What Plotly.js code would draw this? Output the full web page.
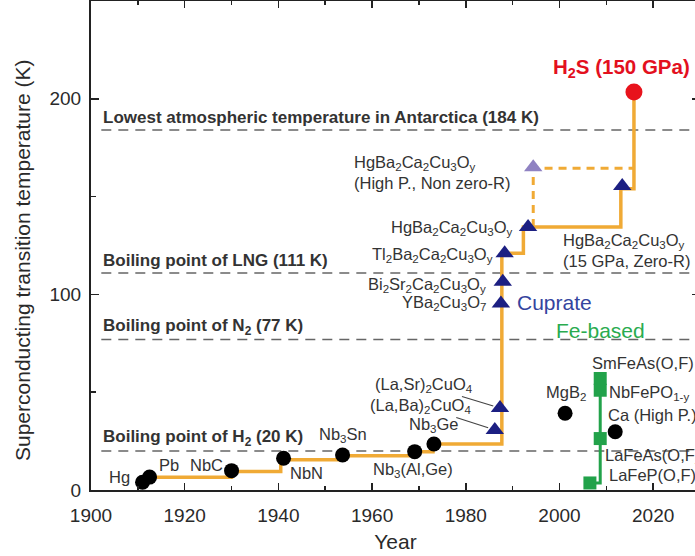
<!DOCTYPE html>
<html>
<head>
<meta charset="utf-8">
<script src="https://cdn.plot.ly/plotly-3.0.1.min.js"></script>
<style>html,body{margin:0;padding:0;overflow:hidden;background:#fff;}</style>
</head>
<body>
<div id="chart"></div>
<script>
// Conventional superconductors (black circles)
const convNames = ["Hg","Pb","NbC","NbN","Nb3Sn","Nb3(Al,Ge)","Nb3Ge","MgB2","Ca (High P.)"];
const convYear  = [1911, 1912.5, 1930, 1941.1, 1953.7, 1969.1, 1973.2, 2001.2, 2011.9];
const convTc    = [4, 6.6, 9.9, 16.2, 17.9, 19.6, 23.5, 39.2, 29.8];

// Cuprates (navy triangles)
const cupNames = ["(La,Ba)2CuO4","(La,Sr)2CuO4","YBa2Cu3O7","Bi2Sr2Ca2Cu3Oy","Tl2Ba2Ca2Cu3Oy","HgBa2Ca2Cu3Oy","HgBa2Ca2Cu3Oy (15 GPa, Zero-R)"];
const cupYear  = [1986.2, 1987.3, 1987.5, 1987.9, 1988.3, 1993.3, 2013.4];
const cupTc    = [30.7, 41.9, 95.4, 106.5, 121, 134.5, 155.4];

// Cuprate under high pressure, non zero resistance (lavender triangle)
const hpYear = [1994.4];
const hpTc   = [165];

// Hydride
const h2sYear = [2015.9];
const h2sTc   = [203.5];

// Fe-based (green squares)
const feNames = ["LaFeP(O,F)","LaFeAs(O,F)","NbFePO1-y","SmFeAs(O,F)"];
const feYear  = [2006.5, 2008.7, 2008.7, 2008.7];
const feTc    = [3.6, 26.3, 51, 57];

// Record envelope line (orange step)
const recYear = [1911, 1912.5, 1930, 1940.5, 1954, 1969, 1973, 1987.7, 1992.3, 2013.1, 2015.9];
const recTc   = [4, 6.5, 9.5, 15.5, 17.5, 19.5, 23.5, 121, 134.5, 154, 203.5];

// Dashed branch (high pressure, non zero-R)
const dashYear = [1994.4, 1994.4, 2015.9];
const dashTc   = [134.5, 164.5, 164.5];

// Reference temperatures
const refTemps  = [184, 111, 77, 20];
const refLabels = ["Lowest atmospheric temperature in Antarctica (184 K)",
                   "Boiling point of LNG (111 K)",
                   "Boiling point of N<sub>2</sub> (77 K)",
                   "Boiling point of H<sub>2</sub> (20 K)"];

const xTicks = [1900, 1920, 1940, 1960, 1980, 2000, 2020];
const yTicks = [0, 100, 200];

const ORANGE = "#f0aa35";
const FONT = "Arial, 'Liberation Sans', Helvetica, sans-serif";
const TXT = "#333333";
const LS = 16.5;

const traces = [
  {x: recYear, y: recTc, mode: "lines", line: {color: ORANGE, width: 3.5, shape: "hv"}, hoverinfo: "skip"},
  {x: dashYear, y: dashTc, mode: "lines", line: {color: ORANGE, width: 3, dash: "8px,6px"}, hoverinfo: "skip"},
  {x: feYear, y: feTc, mode: "lines+markers", line: {color: "#22a24a", width: 3, shape: "hv"},
   marker: {symbol: "square", size: 13, color: "#22a24a"}, text: feNames},
  {x: convYear, y: convTc, mode: "markers", marker: {symbol: "circle", size: 15, color: "#000000"}, text: convNames},
  {x: cupYear, y: cupTc, mode: "markers", marker: {symbol: "triangle-up", size: 16, color: "#1c1f82"}, text: cupNames},
  {x: hpYear, y: hpTc, mode: "markers", marker: {symbol: "triangle-up", size: 16, color: "#8f82c2"}},
  {x: h2sYear, y: h2sTc, mode: "markers", marker: {symbol: "circle", size: 17, color: "#e8131c"}}
];

const shapes = refTemps.map(t => ({
  type: "line", xref: "x", yref: "y", x0: 1902.2, x1: 2030, y0: t, y1: t,
  line: {color: "#666666", width: 1.5, dash: "10px,7px"}, layer: "below"
}));

function lab(text, x, y, anchor, opts) {
  return Object.assign({text: text, x: x, y: y, xref: "x", yref: "y", showarrow: false,
    xanchor: anchor, yanchor: "middle", font: {family: FONT, size: LS, color: TXT}}, opts || {});
}

const annotations = [];
refTemps.forEach((t, i) => {
  annotations.push(lab("<b>" + refLabels[i] + "</b>", 1902.2, t, "left",
    {yshift: 12.5, font: {family: FONT, size: 17, color: "#333"}}));
});

annotations.push(
  lab("Hg", 1908.7, 6.6, "right"),
  lab("Pb", 1914.0, 12.8, "left"),
  lab("NbC", 1920.6, 12.8, "left"),
  lab("NbN", 1942.0, 8.7, "left"),
  lab("Nb<sub>3</sub>Sn", 1948.2, 28.1, "left"),
  lab("Nb<sub>3</sub>(Al,Ge)", 1959.8, 10.2, "left"),
  lab("Nb<sub>3</sub>Ge", 1967.4, 33.2, "left"),
  lab("YBa<sub>2</sub>Cu<sub>3</sub>O<sub>7</sub>", 1984.7, 95.6, "right"),
  lab("Bi<sub>2</sub>Sr<sub>2</sub>Ca<sub>2</sub>Cu<sub>3</sub>O<sub>y</sub>", 1984.7, 104.8, "right"),
  lab("Tl<sub>2</sub>Ba<sub>2</sub>Ca<sub>2</sub>Cu<sub>3</sub>O<sub>y</sub>", 1986.2, 120.1, "right"),
  lab("HgBa<sub>2</sub>Ca<sub>2</sub>Cu<sub>3</sub>O<sub>y</sub>", 1990.5, 133.9, "right"),
  lab("HgBa<sub>2</sub>Ca<sub>2</sub>Cu<sub>3</sub>O<sub>y</sub><br>(High P., Non zero-R)", 1955.7, 162.3, "left", {align: "left"}),
  lab("HgBa<sub>2</sub>Ca<sub>2</sub>Cu<sub>3</sub>O<sub>y</sub><br>(15 GPa, Zero-R)", 2000.3, 122.7, "left", {align: "left"}),
  lab("<b>H<sub>2</sub>S (150 GPa)</b>", 1998.2, 215.7, "left", {font: {family: FONT, size: 20.5, color: "#e3101e"}}),
  lab("Cuprate", 1990.6, 96.1, "left", {font: {family: FONT, size: 21, color: "#34449e"}}),
  lab("Fe-based", 1998.8, 81.8, "left", {font: {family: FONT, size: 21, color: "#2aab4f"}}),
  lab("SmFeAs(O,F)", 2006.6, 64.9, "left"),
  lab("MgB<sub>2</sub>", 1996.7, 49.6, "left"),
  lab("NbFePO<sub>1-y</sub>", 2010.1, 49.6, "left"),
  lab("Ca (High P.)", 2009.9, 38.3, "left"),
  lab("LaFeAs(O,F)", 2009.3, 17.9, "left"),
  lab("LaFeP(O,F)", 2010.1, 7.7, "left"),
  {text: "(La,Sr)<sub>2</sub>CuO<sub>4</sub>", x: cupYear[1], y: cupTc[1], xref: "x", yref: "y",
   showarrow: true, arrowhead: 0, arrowwidth: 1.2, arrowcolor: "#444", ax: -76, ay: -23, standoff: 7,
   font: {family: FONT, size: LS, color: TXT}},
  {text: "(La,Ba)<sub>2</sub>CuO<sub>4</sub>", x: cupYear[0], y: cupTc[0], xref: "x", yref: "y",
   showarrow: true, arrowhead: 0, arrowwidth: 1.2, arrowcolor: "#444", ax: -74, ay: -24, standoff: 7,
   font: {family: FONT, size: LS, color: TXT}},
  // y-axis title, placed where the reference shows it
  {text: "Superconducting transition temperature (K)", xref: "paper", yref: "paper",
   x: (22 - 91) / 609, y: (490 - 260) / 489, xanchor: "center", yanchor: "middle",
   textangle: -90, showarrow: false, font: {family: FONT, size: 21, color: "#2a2a2a"}}
);

const layout = {
  width: 700, height: 556,
  margin: {l: 91, r: 0, t: 1, b: 66},
  paper_bgcolor: "#ffffff", plot_bgcolor: "#ffffff",
  showlegend: false,
  font: {family: FONT, color: TXT},
  xaxis: {
    range: [1900, 2030], tickvals: xTicks, ticktext: xTicks.map(String),
    ticks: "inside", ticklen: 7, tickwidth: 1.5, tickcolor: "#222",
    minor: {dtick: 10, tick0: 1900, ticks: "inside", ticklen: 4, tickwidth: 1.5, tickcolor: "#222"},
    showline: true, linewidth: 2, linecolor: "#222", mirror: "ticks",
    showgrid: false, zeroline: false,
    tickfont: {family: FONT, size: 19, color: "#2a2a2a"}, ticklabelstandoff: 7,
    title: {text: "Year", font: {family: FONT, size: 21, color: "#2a2a2a"}, standoff: 10}
  },
  yaxis: {
    range: [0, 250], tickvals: yTicks, ticktext: yTicks.map(String),
    ticks: "inside", ticklen: 8, tickwidth: 1.5, tickcolor: "#222",
    minor: {dtick: 50, tick0: 0, ticks: "inside", ticklen: 5, tickwidth: 1.5, tickcolor: "#222"},
    showline: true, linewidth: 2, linecolor: "#222", mirror: "ticks",
    showgrid: false, zeroline: false,
    tickfont: {family: FONT, size: 19, color: "#2a2a2a"}, ticklabelstandoff: 4
  },
  shapes: shapes,
  annotations: annotations
};

Plotly.newPlot("chart", traces, layout, {displayModeBar: false, staticPlot: true});
</script>
</body>
</html>
